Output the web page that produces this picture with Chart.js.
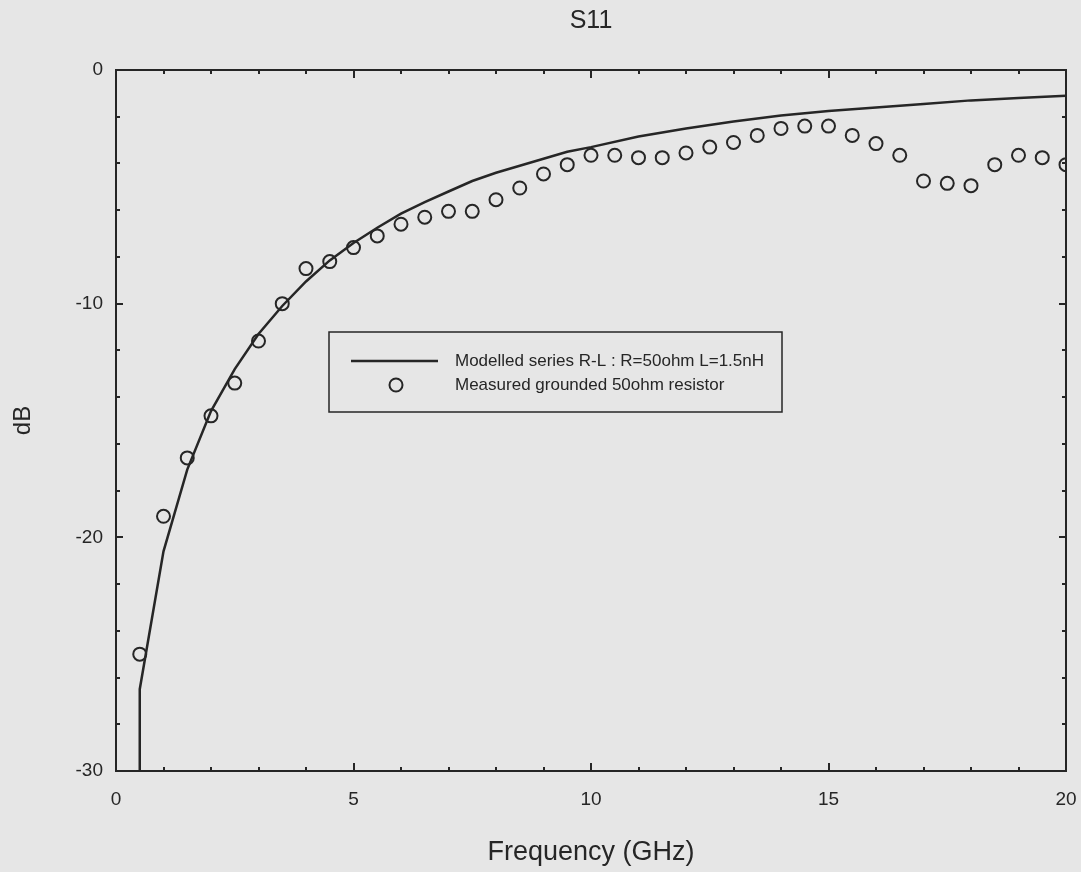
<!DOCTYPE html>
<html>
<head>
<meta charset="utf-8">
<title>S11</title>
<script src="https://cdn.jsdelivr.net/npm/chart.js@4.4.1/dist/chart.umd.min.js"></script>
<style>
  html, body { margin: 0; padding: 0; background: #e6e6e6; }
  #wrap { position: relative; width: 1081px; height: 872px; }
</style>
</head>
<body>
<div id="wrap"><canvas id="s11"></canvas></div>
<script>
// ---- data ----
const measuredFreq = [
  0.5, 1.0, 1.5, 2.0, 2.5, 3.0, 3.5, 4.0, 4.5, 5.0,
  5.5, 6.0, 6.5, 7.0, 7.5, 8.0, 8.5, 9.0, 9.5, 10.0,
  10.5, 11.0, 11.5, 12.0, 12.5, 13.0, 13.5, 14.0, 14.5, 15.0,
  15.5, 16.0, 16.5, 17.0, 17.5, 18.0, 18.5, 19.0, 19.5, 20.0,
];
const measuredDb = [
  -25.0, -19.1, -16.6, -14.8, -13.4, -11.6, -10.0, -8.5, -8.2, -7.6,
  -7.1, -6.6, -6.3, -6.05, -6.05, -5.55, -5.05, -4.45, -4.05, -3.65,
  -3.65, -3.75, -3.75, -3.55, -3.3, -3.1, -2.8, -2.5, -2.4, -2.4,
  -2.8, -3.15, -3.65, -4.75, -4.85, -4.95, -4.05, -3.65, -3.75, -4.05,
];

const modelFreq = [
  0.49, 0.5, 1.0, 1.5, 2.0, 2.5, 3.0, 3.5, 4.0, 4.5, 5.0,
  5.5, 6.0, 6.5, 7.0, 7.5, 8.0, 8.5, 9.0, 9.5, 10.0,
  11, 12, 13, 14, 15, 16, 17, 18, 19, 20,
];
const modelDb = [
  -30.0, -26.5, -20.6, -17.1, -14.6, -12.8, -11.3, -10.1, -9.05, -8.15, -7.4,
  -6.75, -6.15, -5.65, -5.2, -4.75, -4.4, -4.1, -3.8, -3.5, -3.3,
  -2.85, -2.5, -2.2, -1.95, -1.75, -1.6, -1.45, -1.3, -1.2, -1.1,
];

const xTicks = [0, 5, 10, 15, 20];
const yTicks = [0, -10, -20, -30];

const modelLabel = "Modelled series R-L : R=50ohm L=1.5nH";
const measuredLabel = "Measured grounded 50ohm resistor";

const INK = "#262626";
const FONT = "'Liberation Sans', Arial, Helvetica, sans-serif";

Chart.defaults.font.family = FONT;
Chart.defaults.color = INK;

function toPoints(xs, ys) {
  return xs.map((x, i) => ({ x, y: ys[i] }));
}

// frame with inward ticks on all four sides
const framePlugin = {
  id: "frame",
  afterDraw(chart) {
    const { ctx, chartArea: a, scales } = chart;
    const xs = scales.x, ys = scales.y;
    ctx.save();
    ctx.strokeStyle = INK;
    ctx.lineWidth = 2;
    ctx.strokeRect(a.left, a.top, a.right - a.left, a.bottom - a.top);
    ctx.beginPath();
    for (let f = 1; f < 20; f++) {
      const px = Math.round(xs.getPixelForValue(f));
      const len = f % 5 === 0 ? 8 : 4;
      ctx.moveTo(px, a.bottom); ctx.lineTo(px, a.bottom - len);
      ctx.moveTo(px, a.top); ctx.lineTo(px, a.top + len);
    }
    for (let d = -28; d < 0; d += 2) {
      const py = Math.round(ys.getPixelForValue(d));
      const len = d % 10 === 0 ? 7 : 4;
      ctx.moveTo(a.left, py); ctx.lineTo(a.left + len, py);
      ctx.moveTo(a.right, py); ctx.lineTo(a.right - len, py);
    }
    ctx.stroke();
    ctx.restore();
  },
};

// boxed legend sitting inside the plot
const boxLegendPlugin = {
  id: "boxLegend",
  afterDraw(chart) {
    const { ctx, chartArea: a } = chart;
    const left = a.left + 213, top = a.top + 262;
    const w = 453, h = 80;
    ctx.save();
    ctx.strokeStyle = INK;
    ctx.lineWidth = 1.5;
    ctx.strokeRect(left, top, w, h);

    ctx.lineWidth = 2.5;
    ctx.beginPath();
    ctx.moveTo(left + 22, top + 29);
    ctx.lineTo(left + 109, top + 29);
    ctx.stroke();

    ctx.lineWidth = 2;
    ctx.beginPath();
    ctx.arc(left + 67, top + 53, 6.5, 0, Math.PI * 2);
    ctx.stroke();

    ctx.fillStyle = INK;
    ctx.font = "17px " + FONT;
    ctx.textBaseline = "middle";
    ctx.textAlign = "left";
    ctx.fillText(modelLabel, left + 126, top + 29);
    ctx.fillText(measuredLabel, left + 126, top + 53);
    ctx.restore();
  },
};

new Chart(document.getElementById("s11"), {
  type: "scatter",
  data: {
    datasets: [
      {
        type: "line",
        label: modelLabel,
        data: toPoints(modelFreq, modelDb),
        borderColor: INK,
        borderWidth: 2.5,
        pointRadius: 0,
        tension: 0,
        fill: false,
      },
      {
        label: measuredLabel,
        data: toPoints(measuredFreq, measuredDb),
        pointStyle: "circle",
        pointRadius: 6.5,
        pointBorderWidth: 2,
        borderColor: INK,
        backgroundColor: "rgba(0,0,0,0)",
      },
    ],
  },
  plugins: [framePlugin, boxLegendPlugin],
  options: {
    responsive: true,
    maintainAspectRatio: false,
    animation: false,
    layout: { padding: { left: 0, right: 15, top: 0, bottom: 0 } },
    plugins: {
      legend: { display: false },
      tooltip: { enabled: false },
      title: {
        display: true,
        fullSize: false,
        text: "S11",
        color: INK,
        font: { size: 25, weight: "normal" },
        padding: { top: 6, bottom: 34 },
      },
    },
    scales: {
      x: {
        type: "linear",
        min: 0,
        max: 20,
        afterBuildTicks: (s) => { s.ticks = xTicks.map((v) => ({ value: v })); },
        afterFit: (s) => { s.height = 101; s.paddingLeft = 0; s.paddingRight = 0; },
        grid: { display: false, drawTicks: false, tickLength: 0 },
        border: { display: false },
        ticks: { font: { size: 19 }, color: INK, padding: 17, maxRotation: 0 },
        title: {
          display: true,
          text: "Frequency (GHz)",
          color: INK,
          font: { size: 27 },
          padding: { top: 0, bottom: 3 },
        },
      },
      y: {
        type: "linear",
        min: -30,
        max: 0,
        afterBuildTicks: (s) => { s.ticks = yTicks.map((v) => ({ value: v })); },
        afterFit: (s) => { s.width = 116; s.paddingTop = 0; s.paddingBottom = 0; },
        grid: { display: false, drawTicks: false, tickLength: 0 },
        border: { display: false },
        ticks: { font: { size: 19 }, color: INK, padding: 13 },
        title: {
          display: true,
          text: "dB",
          color: INK,
          font: { size: 24 },
          padding: { top: 9, bottom: 0 },
        },
      },
    },
  },
});
</script>
</body>
</html>
